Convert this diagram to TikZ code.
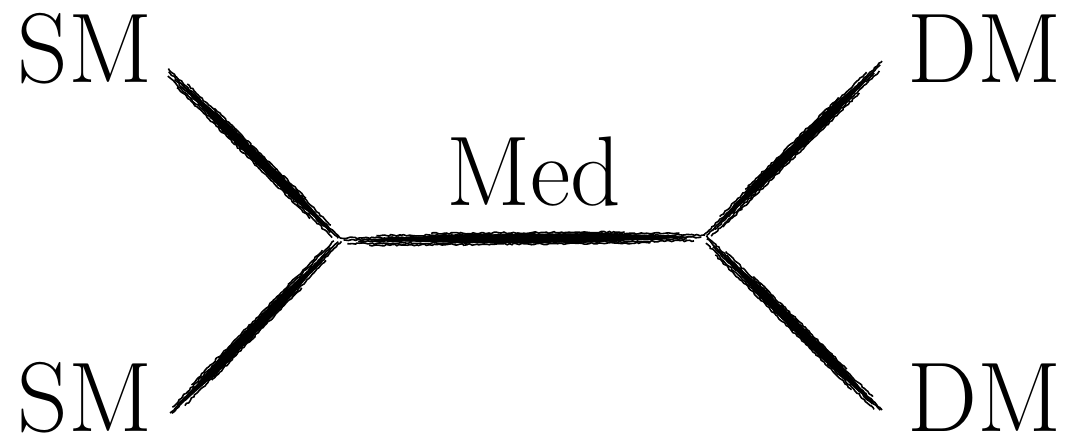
\documentclass[tikz,border=0pt]{standalone}
\usepackage{fontspec}
\usetikzlibrary{calc,decorations.pathmorphing}
\newcommand\brushline[2]{%
  \fill[ink] ($(#1)!0.03!(#2)$)
    -- ($(#1)!0.3!(#2)!4.2pt!90:(#2)$)
    -- ($(#1)!0.72!(#2)!4.8pt!90:(#2)$)
    -- ($(#1)!0.98!(#2)$)
    -- ($(#1)!0.68!(#2)!4.6pt!-90:(#2)$)
    -- ($(#1)!0.33!(#2)!4pt!-90:(#2)$) -- cycle;
  \foreach \o/\s/\e in {-5.5pt/0.08/0.85, -3.8pt/0.02/0.97, 4.2pt/0.1/0.93, 5.8pt/0.25/0.78, 2pt/0.0/1.0, -1.5pt/0.05/0.95, 0pt/0.01/0.99}
    \draw[hair] ($(#1)!\s!(#2)!\o!90:(#2)$) -- ($(#1)!\e!(#2)!\o!90:(#2)$);
}
\begin{document}
\begin{tikzpicture}[x=1pt,y=-1pt,
  ink/.style={black},
  lbl/.style={inner sep=0pt, anchor=base, font=\fontsize{99}{99}\selectfont},
  hair/.style={black, line width=1.6pt, decorate,
    decoration={random steps, segment length=2.5pt, amplitude=0.8pt}}]
\pgfmathsetseed{7}
\useasboundingbox[fill=white] (0,0) rectangle (1071,439);
\node[lbl] (sm1) at (85,82) {SM};
\node[lbl] (sm2) at (85,431) {SM};
\node[lbl] (dm1) at (985,82) {DM};
\node[lbl] (dm2) at (985,431) {DM};
\node[lbl] (med) at (534,205) {Med};
\coordinate (v1) at (340,240);
\coordinate (v2) at (705,237);
\coordinate (e1) at (167,70);
\coordinate (e2) at (170,415);
\coordinate (e3) at (882,63);
\coordinate (e4) at (882,412);
\brushline{e1}{v1}
\brushline{v1}{e2}
\brushline{v1}{v2}
\brushline{v2}{e3}
\brushline{v2}{e4}
\end{tikzpicture}
\end{document}
